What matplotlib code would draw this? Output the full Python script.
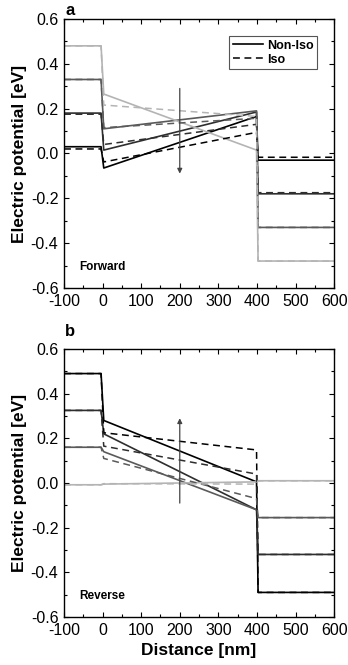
import matplotlib
matplotlib.use("Agg")
import matplotlib.pyplot as plt
from matplotlib.ticker import MultipleLocator
from matplotlib.lines import Line2D

plt.rcParams['font.family'] = ['Liberation Sans', 'DejaVu Sans']
plt.rcParams['axes.unicode_minus'] = False

# Distance grid of each profile (nm): left contact, interface 0, interface 400, right contact
x_nodes = [-100, -4, 3, 399, 403, 600]

set_colors = ['#000000', '#2e2e2e', '#5a5a5a', '#b4b4b4']

# Forward bias (panel a): left level, film start, film end, right level
fwd_left_noniso = [0.03, 0.18, 0.33, 0.48]
fwd_start_noniso = [-0.065, 0.015, 0.11, 0.265]
fwd_end_noniso = [0.165, 0.185, 0.19, 0.015]
fwd_right_noniso = [-0.03, -0.18, -0.33, -0.48]

fwd_left_iso = [0.02, 0.175, 0.33, 0.48]
fwd_start_iso = [-0.038, 0.04, 0.115, 0.216]
fwd_end_iso = [0.094, 0.13, 0.157, 0.165]
fwd_right_iso = [-0.017, -0.175, -0.33, -0.48]

# Reverse bias (panel b)
rev_left_noniso = [0.49, 0.325, 0.16, -0.008]
rev_start_noniso = [0.28, 0.22, 0.14, -0.005]
rev_end_noniso = [0.005, -0.12, -0.12, 0.005]
rev_right_noniso = [-0.49, -0.32, -0.155, 0.01]

rev_left_iso = [0.49, 0.325, 0.16, -0.008]
rev_start_iso = [0.225, 0.165, 0.11, -0.003]
rev_end_iso = [0.148, 0.04, -0.07, -0.005]
rev_right_iso = [-0.49, -0.32, -0.155, 0.01]

fig = plt.figure(figsize=(3.48, 6.65), dpi=100)
ax_a = fig.add_axes([0.184, 0.567, 0.776, 0.4045])
ax_b = fig.add_axes([0.184, 0.0722, 0.776, 0.403])

dash = (4.5, 3)


def profile(l, s, e, r):
    return [l, l, s, e, r, r]


def draw(ax, L, S, E, R, ls):
    for i in range(len(L)):
        y = profile(L[i], S[i], E[i], R[i])
        if ls == 'solid':
            ax.plot(x_nodes, y, color=set_colors[i], lw=1.2, solid_joinstyle='round')
        else:
            ax.plot(x_nodes, y, color=set_colors[i], lw=1.1, linestyle=(0, dash))


draw(ax_a, fwd_left_noniso, fwd_start_noniso, fwd_end_noniso, fwd_right_noniso, 'solid')
draw(ax_a, fwd_left_iso, fwd_start_iso, fwd_end_iso, fwd_right_iso, 'dashed')
draw(ax_b, rev_left_noniso, rev_start_noniso, rev_end_noniso, rev_right_noniso, 'solid')
draw(ax_b, rev_left_iso, rev_start_iso, rev_end_iso, rev_right_iso, 'dashed')

# arrows indicating increasing bias
ax_a.annotate('', xy=(200, -0.09), xytext=(200, 0.29),
              arrowprops=dict(arrowstyle='-|>', color='#444444', lw=0.9,
                              mutation_scale=7, shrinkA=0, shrinkB=0))
ax_b.annotate('', xy=(200, 0.29), xytext=(200, -0.09),
              arrowprops=dict(arrowstyle='-|>', color='#444444', lw=0.9,
                              mutation_scale=7, shrinkA=0, shrinkB=0))

for ax in (ax_a, ax_b):
    ax.set_xlim(-100, 600)
    ax.set_ylim(-0.6, 0.6)
    ax.xaxis.set_major_locator(MultipleLocator(100))
    ax.xaxis.set_minor_locator(MultipleLocator(50))
    ax.yaxis.set_major_locator(MultipleLocator(0.2))
    ax.yaxis.set_minor_locator(MultipleLocator(0.1))
    ax.yaxis.set_major_formatter(matplotlib.ticker.FormatStrFormatter('%.1f'))
    ax.tick_params(which='both', direction='in', top=True, right=True, width=0.8,
                   labelsize=11.5, pad=4)
    ax.tick_params(which='major', length=3.5)
    ax.tick_params(which='minor', length=2.5)
    for sp in ax.spines.values():
        sp.set_linewidth(1.0)
    ax.set_ylabel('Electric potential [eV]', fontsize=12.5, fontweight='bold', labelpad=3)

ax_b.set_xlabel('Distance [nm]', fontsize=12.5, fontweight='bold', labelpad=4)

ax_a.text(-60, -0.505, 'Forward', fontsize=8.5, fontweight='bold', va='center', ha='left')
ax_b.text(-60, -0.505, 'Reverse', fontsize=8.5, fontweight='bold', va='center', ha='left')

fig.text(0.188, 0.973, 'a', fontsize=12, fontweight='bold', ha='left', va='bottom')
fig.text(0.188, 0.49, 'b', fontsize=12, fontweight='bold', ha='left', va='bottom')

handles = [Line2D([], [], color='black', lw=1.2),
           Line2D([], [], color='black', lw=1.1, linestyle=(0, dash))]
leg = ax_a.legend(handles, ['Non-Iso', 'Iso'], loc='upper right',
                  bbox_to_anchor=(0.937, 0.937), borderaxespad=0,
                  prop={'weight': 'bold', 'size': 9}, handlelength=2.4,
                  handletextpad=0.3, borderpad=0.3, labelspacing=0.15,
                  fancybox=False, framealpha=1, edgecolor='#555555')
leg.get_frame().set_linewidth(0.8)

fig.savefig('out.png', dpi=100)
